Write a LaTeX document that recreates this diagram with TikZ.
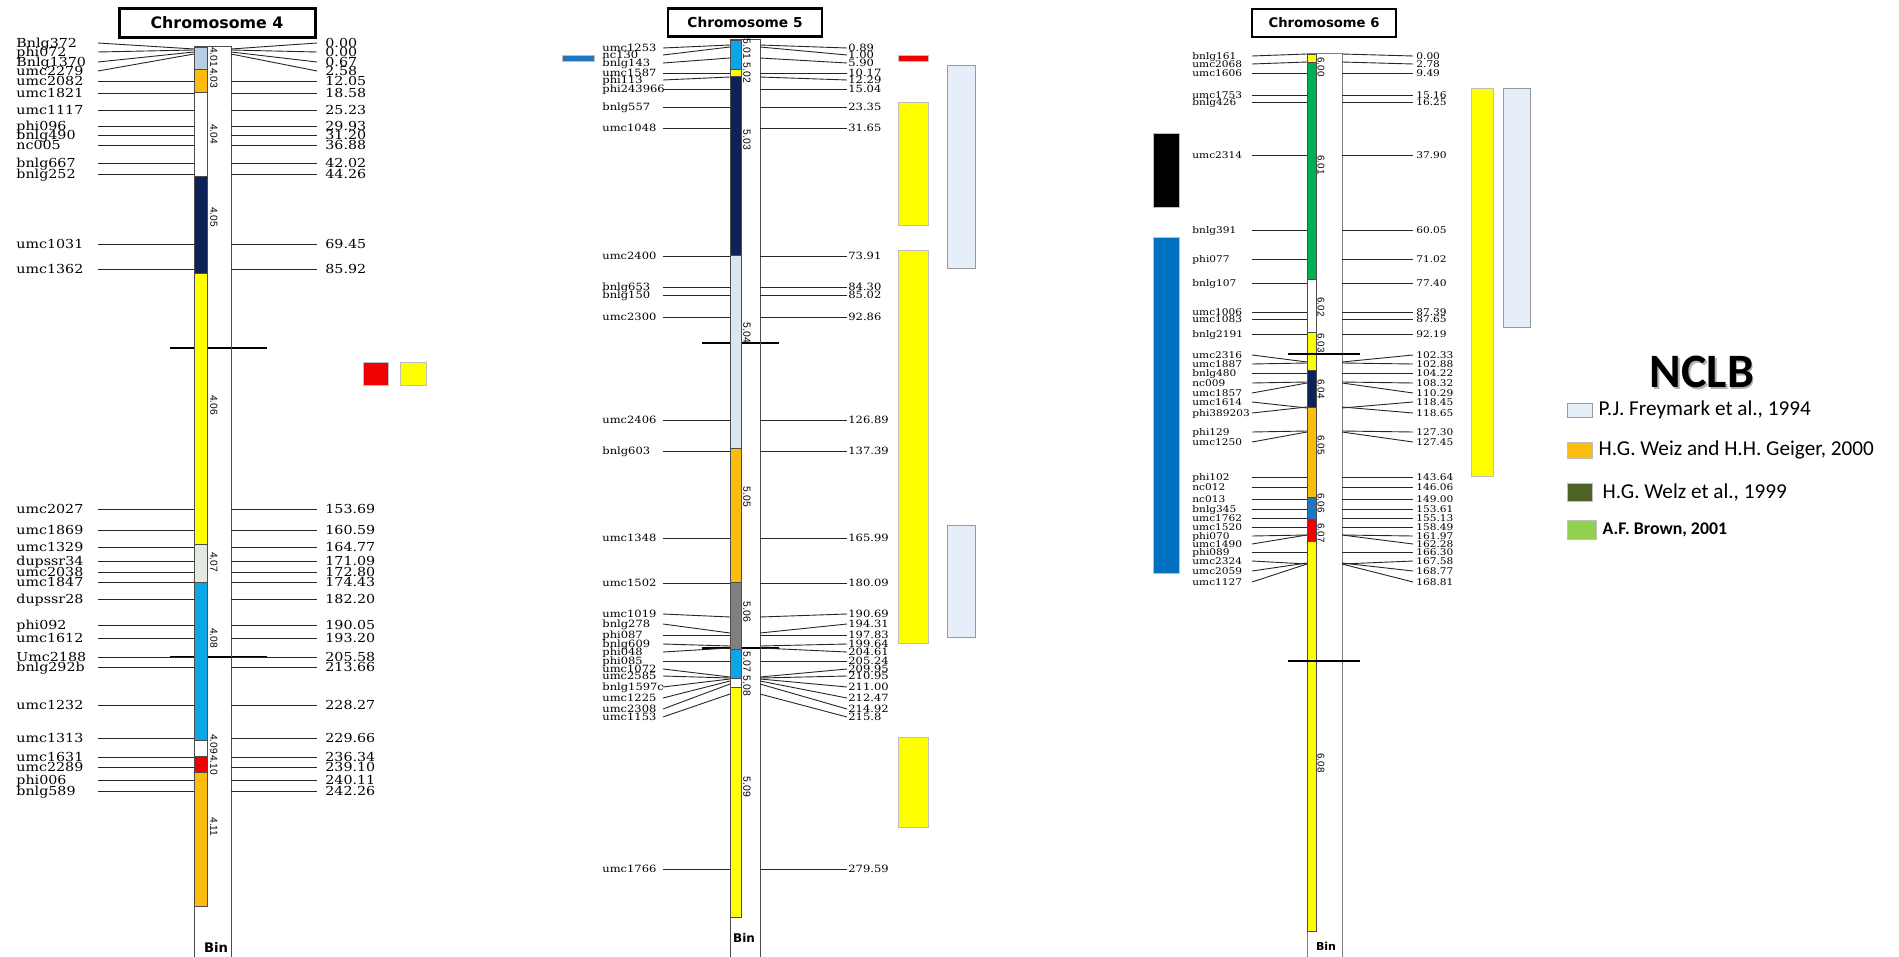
\documentclass[tikz,border=0pt]{standalone}
\usepackage{fontspec}
\usepackage{xcolor}
\usepackage{tikz}
\usetikzlibrary{positioning, shadows}

\newfontfamily\markfont[FakeStretch=1.15]{DejaVu Serif}
\newfontfamily\binfont{Liberation Sans}
\newfontfamily\titlefont{DejaVu Sans}
\newfontfamily\legfont{Carlito}

\definecolor{binblue}{HTML}{B9CDE5}
\definecolor{binorange}{HTML}{FBBC0E}
\definecolor{binnavy}{HTML}{0E2158}
\definecolor{binyellow}{HTML}{FFFF00}
\definecolor{binpale}{HTML}{E3E9E0}
\definecolor{bincyan}{HTML}{0AA6E6}
\definecolor{binred}{HTML}{F00000}
\definecolor{binsky}{HTML}{DAE6F2}
\definecolor{bingray}{HTML}{7F7F7F}
\definecolor{bingreen}{HTML}{00B050}
\definecolor{binmid}{HTML}{1F77C0}
\definecolor{qtlblue}{HTML}{0070C0}
\definecolor{qtllight}{HTML}{E6EFF9}
\definecolor{leggreen}{HTML}{4F6228}
\definecolor{leglime}{HTML}{92D050}

\begin{document}
\begin{tikzpicture}[
        x=0.5pt, y=-0.5pt,
        mline/.style = {draw=black!85, line width=0.45pt},
        seg/.style = {draw=black!70, line width=0.35pt},
        binbox/.style = {draw=black!70, line width=0.5pt},
        tick/.style = {draw=black, line width=1.2pt},
        qtl/.style = {draw=black!25, line width=0.3pt, drop shadow={shadow xshift=0.7pt, shadow yshift=-0.7pt, fill=black!40, opacity=0.4}},
        ttl/.style = {draw, line width=1.5pt, inner sep=0pt, font=\titlefont\bfseries},
        mk4/.style = {anchor=west, inner sep=0pt, text height=4.5pt, text depth=0pt, font=\markfont\fontsize{6.2}{6.2}\selectfont},
        mk5/.style = {anchor=west, inner sep=0pt, text height=3.65pt, text depth=0pt, font=\markfont\fontsize{5}{5}\selectfont},
        mk6/.style = {anchor=west, inner sep=0pt, text height=3.4pt, text depth=0pt, font=\markfont\fontsize{4.6}{4.6}\selectfont},
        binlbl/.style = {rotate=-90, inner sep=0pt, font=\binfont\fontsize{5.1}{5}\selectfont},
        bintxt/.style = {inner sep=0pt, font=\titlefont\bfseries},
        swatch/.style = {qtl, minimum width=12.5pt, inner sep=0pt},
        legtxt/.style = {inner sep=0pt, font=\legfont\fontsize{10.6}{11}\selectfont}
      ]
      \useasboundingbox (0,0) rectangle (1899,957);

      % ================= CHROMOSOME 4 =================
      \node[ttl, minimum width=98pt, minimum height=14.5pt, font=\titlefont\bfseries\fontsize{7.9}{8}\selectfont] (title4) at (217,23) {Chromosome 4};

      \draw[tick] (170,348) -- (267,348);
      \draw[tick] (170,657) -- (267,657);
      \draw[binbox] (194,957) -- (194,47) -- (231,47) -- (231,957);
      \foreach \top/\bot/\col in {47/69/binblue, 69/92/binorange, 92/176/white, 176/273/binnavy,
          273/544/binyellow, 544/582/binpale, 582/740/bincyan, 740/756/white, 756/772/binred, 772/906/binorange}
        \draw[seg, fill=\col] (194,\top) rectangle (207,\bot);
      \foreach \b/\y in {4.01/57, 4.03/78, 4.04/134, 4.05/217, 4.06/405, 4.07/562, 4.08/638, 4.09/744, 4.10/765, 4.11/827}
        \node[binlbl] at (214,\y) {\b};
      \node[bintxt, font=\titlefont\bfseries\fontsize{6.6}{7}\selectfont] (bin4) at (216,947) {Bin};

      % markers: name / position / label row / bar row
      \foreach \nm/\val/\ly/\by [count=\i] in {Bnlg372/0.00/43/49, phi072/0.00/52/50, Bnlg1370/0.67/62/52,
          umc2279/2.58/71/54, umc2082/12.05/81/81, umc1821/18.58/93/93, umc1117/25.23/110/110,
          phi096/29.93/126/126, bnlg490/31.20/135/135, nc005/36.88/145/145, bnlg667/42.02/163/163,
          bnlg252/44.26/174/174, umc1031/69.45/244/244, umc1362/85.92/269/269, umc2027/153.69/509/509,
          umc1869/160.59/530/530, umc1329/164.77/547/547, dupssr34/171.09/561/561, umc2038/172.80/572/572,
          umc1847/174.43/582/582, dupssr28/182.20/599/599, phi092/190.05/625/625, umc1612/193.20/638/638,
          Umc2188/205.58/657/657, bnlg292b/213.66/667/667, umc1232/228.27/705/705, umc1313/229.66/738/738,
          umc1631/236.34/757/757, umc2289/239.10/767/767, phi006/240.11/780/780, bnlg589/242.26/791/791} {
        \node[mk4] (m4-\i) at (16,\ly) {\nm};
        \node[mk4, inner xsep=4pt] (v4-\i) at (317,\ly) {\val};
        \coordinate (m4a-\i) at (98,\ly);
        \coordinate (m4b-\i) at (194,\by);
        \coordinate (m4c-\i) at (231,\by);
        \draw[mline] (m4a-\i) -- (m4b-\i);
        \draw[mline] (m4c-\i) -- (v4-\i.west);
      }

      \draw[qtl, fill=binred] (363,362) rectangle (388,385);
      \draw[qtl, fill=binyellow] (400,362) rectangle (426,385);

      % ================= CHROMOSOME 5 =================
      \node[ttl, minimum width=77pt, minimum height=14pt, line width=1.4pt, font=\titlefont\bfseries\fontsize{6.85}{7}\selectfont] (title5) at (745,22.5) {Chromosome 5};

      \draw[tick] (702,343) -- (779,343);
      \draw[tick] (702,648) -- (779,648);
      \draw[binbox] (730,957) -- (730,40) -- (760,40) -- (760,957);
      \foreach \top/\bot/\col in {40/69/bincyan, 69/76/binyellow, 76/255/binnavy, 255/448/binsky,
          448/582/binorange, 582/649/bingray, 649/678/bincyan, 678/687/white, 687/917/binyellow}
        \draw[seg, fill=\col] (730,\top) rectangle (741,\bot);
      \foreach \b/\y in {5.01/49, 5.02/73, 5.03/140, 5.04/333, 5.05/497, 5.06/612, 5.07/662, 5.08/686, 5.09/787}
        \node[binlbl, font=\binfont\fontsize{5.2}{5}\selectfont] at (747,\y) {\b};
      \node[bintxt, font=\titlefont\bfseries\fontsize{6}{6}\selectfont] (bin5) at (744,938) {Bin};

      \foreach \nm/\val/\ly/\by [count=\i] in {umc1253/0.89/48/45, nc130/1.00/55/47, bnlg143/5.90/63/58,
          umc1587/10.17/73/73, phi113/12.29/80/77, phi243966/15.04/89/89, bnlg557/23.35/107/107,
          umc1048/31.65/128/128, umc2400/73.91/256/256, bnlg653/84.30/287/287, bnlg150/85.02/295/295,
          umc2300/92.86/317/317, umc2406/126.89/420/420, bnlg603/137.39/451/451, umc1348/165.99/538/538,
          umc1502/180.09/583/583, umc1019/190.69/614/617, bnlg278/194.31/624/633, phi087/197.83/635/635,
          bnlg609/199.64/644/646, phi048/204.61/652/648, phi085/205.24/661/661, umc1072/209.95/669/677,
          umc2585/210.95/676/678, bnlg1597c/211.00/687/679, umc1225/212.47/698/681, umc2308/214.92/709/684,
          umc1153/215.8/717/694, umc1766/279.59/869/869} {
        \node[mk5] (m5-\i) at (602,\ly) {\nm};
        \node[mk5, inner xsep=0.5pt] (v5-\i) at (847,\ly) {\val};
        \coordinate (m5a-\i) at (663,\ly);
        \coordinate (m5b-\i) at (730,\by);
        \coordinate (m5c-\i) at (760,\by);
        \draw[mline] (m5a-\i) -- (m5b-\i);
        \draw[mline] (m5c-\i) -- (v5-\i.west);
      }

      \draw[qtl, fill=binmid] (562,55) rectangle (594,61);
      \draw[qtl, fill=binred] (898,55) rectangle (928,61);
      \draw[qtl, fill=binyellow] (898,102) rectangle (928,225);
      \draw[qtl, fill=binyellow] (898,250) rectangle (928,643);
      \draw[qtl, fill=binyellow] (898,737) rectangle (928,827);
      \draw[qtl, fill=qtllight, draw=black!40] (947,65) rectangle (975,268);
      \draw[qtl, fill=qtllight, draw=black!40] (947,525) rectangle (975,637);

      % ================= CHROMOSOME 6 =================
      \node[ttl, minimum width=72pt, minimum height=14pt, line width=1.4pt, font=\titlefont\bfseries\fontsize{6.6}{7}\selectfont] (title6) at (1324,23) {Chromosome 6};

      \draw[binbox, draw=black!50] (1307,957) -- (1307,54) -- (1342,54) -- (1342,957);
      \foreach \top/\bot/\col in {54/62/binyellow, 62/279/bingreen, 279/332/white, 332/370/binyellow,
          370/407/binnavy, 407/497/binorange, 497/519/binmid, 519/541/binred, 541/931/binyellow}
        \draw[seg, fill=\col] (1307,\top) rectangle (1316,\bot);
      \draw[tick] (1288,354) -- (1360,354);
      \draw[tick] (1288,661) -- (1360,661);
      \foreach \b/\y in {6.00/67, 6.01/165, 6.02/307, 6.03/343, 6.04/389, 6.05/445, 6.06/503, 6.07/533, 6.08/763}
        \node[binlbl, font=\binfont\fontsize{4.9}{5}\selectfont] at (1321,\y) {\b};
      \node[bintxt, font=\titlefont\bfseries\fontsize{5.5}{6}\selectfont] (bin6) at (1326,946) {Bin};

      \foreach \nm/\val/\ly/\by [count=\i] in {bnlg161/0.00/56/54, umc2068/2.78/64/62, umc1606/9.49/73/73,
          umc1753/15.16/95/95, bnlg426/16.25/102/102, umc2314/37.90/155/155, bnlg391/60.05/230/230,
          phi077/71.02/259/259, bnlg107/77.40/283/283, umc1006/87.39/312/312, umc1083/87.65/319/319,
          bnlg2191/92.19/334/334, umc2316/102.33/355/362, umc1887/102.88/364/363, bnlg480/104.22/373/373,
          nc009/108.32/383/382, umc1857/110.29/393/383, umc1614/118.45/402/408, phi389203/118.65/413/407,
          phi129/127.30/432/431, umc1250/127.45/442/432, phi102/143.64/477/477, nc012/146.06/487/487,
          nc013/149.00/499/499, bnlg345/153.61/509/509, umc1762/155.13/518/518, umc1520/158.49/527/527,
          phi070/161.97/536/535, umc1490/162.28/544/535, phi089/166.30/552/552, umc2324/167.58/561/564,
          umc2059/168.77/571/563, umc1127/168.81/582/564} {
        \node[mk6] (m6-\i) at (1192,\ly) {\nm};
        \node[mk6, inner xsep=1.5pt] (v6-\i) at (1413,\ly) {\val};
        \coordinate (m6a-\i) at (1252,\ly);
        \coordinate (m6b-\i) at (1307,\by);
        \coordinate (m6c-\i) at (1342,\by);
        \draw[mline] (m6a-\i) -- (m6b-\i);
        \draw[mline] (m6c-\i) -- (v6-\i.west);
      }

      \draw[qtl, fill=black] (1153,133) rectangle (1179,207);
      \draw[qtl, fill=qtlblue] (1153,237) rectangle (1179,573);
      \draw[qtl, fill=binyellow] (1471,88) rectangle (1493,476);
      \draw[qtl, fill=qtllight, draw=black!40] (1503,88) rectangle (1530,327);

      % ================= LEGEND =================
      \node[font=\legfont\bfseries\fontsize{24}{24}\selectfont, text=black!30] (nclb-shadow) at (1703.5,373.5) {NCLB};
      \node[font=\legfont\bfseries\fontsize{24}{24}\selectfont] (nclb) at (1702,372) {NCLB};

      \node[swatch, fill=qtllight, draw=black!40, minimum height=7pt] (sw1) at (1579.5,410) {};
      \node[swatch, fill=binorange, minimum height=8pt] (sw2) at (1579.5,450) {};
      \node[swatch, fill=leggreen, minimum height=9pt] (sw3) at (1579.5,492) {};
      \node[swatch, fill=leglime, minimum width=14.5pt, minimum height=9.5pt] (sw4) at (1581.5,529.5) {};

      \node[legtxt, right=3pt of sw1] (leg1) {P.J. Freymark et al., 1994};
      \node[legtxt, right=3pt of sw2] (leg2) {H.G. Weiz and H.H. Geiger, 2000};
      \node[legtxt, right=5pt of sw3] (leg3) {H.G. Welz et al., 1999};
      \node[legtxt, right=3pt of sw4, font=\legfont\bfseries\fontsize{8.9}{9}\selectfont] (leg4) {A.F. Brown, 2001};

    \end{tikzpicture}
\end{document}
